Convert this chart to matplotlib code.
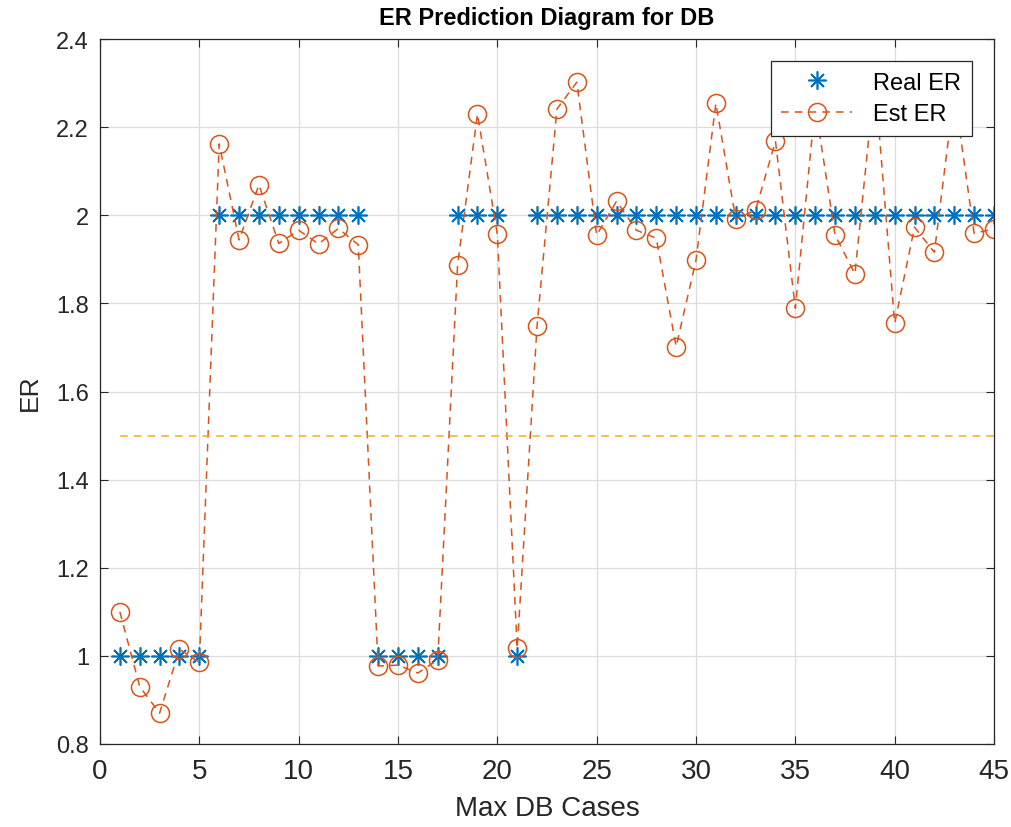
import numpy as np
import matplotlib.pyplot as plt

# case index, real ER and estimated ER per case
cases = np.arange(1, 46)
real_er = [1, 1, 1, 1, 1,
           2, 2, 2, 2, 2, 2, 2, 2,
           1, 1, 1, 1,
           2, 2, 2,
           1,
           2, 2, 2, 2, 2, 2, 2, 2, 2, 2, 2, 2, 2, 2, 2, 2, 2, 2, 2, 2, 2, 2, 2, 2]
est_er = [1.10, 0.93, 0.87, 1.015, 0.985,
          2.162, 1.944, 2.069, 1.936, 1.966, 1.935, 1.970, 1.933,
          0.977, 0.979, 0.961, 0.991,
          1.887, 2.230, 1.957,
          1.017,
          1.749, 2.241, 2.302, 1.955, 2.032, 1.966, 1.948, 1.702, 1.898,
          2.254, 1.991, 2.012, 2.168, 1.789, 2.25, 1.955, 1.867, 2.31, 1.755,
          1.973, 1.916, 2.28, 1.959, 1.969]
threshold = 1.5

plt.rcParams['font.family'] = ['Liberation Sans', 'DejaVu Sans']

fig = plt.figure(figsize=(10.11, 8.28), dpi=100)
ax = fig.add_axes([100 / 1011, 1 - 745 / 828, 894 / 1011, 705 / 828])

star = (8, 2, 0)  # asterisk: + and x overlaid
ax.plot(cases, real_er, linestyle='none', marker=star, color='#0072BD',
        markersize=13, markeredgewidth=1.2, label='Real ER')
ax.plot(cases, est_er, linestyle='--', dashes=(5, 4), color='#D95319',
        linewidth=1.1, marker='o', markersize=13, markerfacecolor='none',
        markeredgewidth=1.1, label='Est ER')
ax.plot([cases[0], cases[-1]], [threshold, threshold], linestyle='--',
        dashes=(5, 4), color='#EDB120', linewidth=1.1)

ax.set_xlim(0, 45)
ax.set_ylim(0.8, 2.4)
ax.set_xticks(np.arange(0, 46, 5))
ax.set_yticks(np.arange(0.8, 2.41, 0.2))
ax.set_yticklabels(['0.8', '1', '1.2', '1.4', '1.6', '1.8', '2', '2.2', '2.4'])
ax.grid(True, color='#DCDCDC', linewidth=0.9)
ax.set_axisbelow(True)
ax.tick_params(direction='in', length=6, width=0.8, top=True, right=True,
               colors='#262626')
ax.tick_params(axis='y', labelsize=17, pad=8)
ax.tick_params(axis='x', labelsize=20, pad=10)
for sp in ax.spines.values():
    sp.set_color('#262626')
    sp.set_linewidth(0.9)

ax.set_xlabel('Max DB Cases', fontsize=20, color='#262626', labelpad=8)
ax.set_ylabel('ER', fontsize=19, color='#262626', labelpad=10)
ax.set_title('ER Prediction Diagram for DB', fontsize=17, fontweight='bold',
             pad=11)

leg = ax.legend(loc='upper right', bbox_to_anchor=(872 / 894, 683 / 705),
                borderaxespad=0, fontsize=17, fancybox=False,
                edgecolor='#262626', framealpha=1, handlelength=3.0,
                borderpad=0.45, labelspacing=0.4, handletextpad=0.9)
leg.get_frame().set_linewidth(0.9)

fig.savefig('out.png', dpi=100)
